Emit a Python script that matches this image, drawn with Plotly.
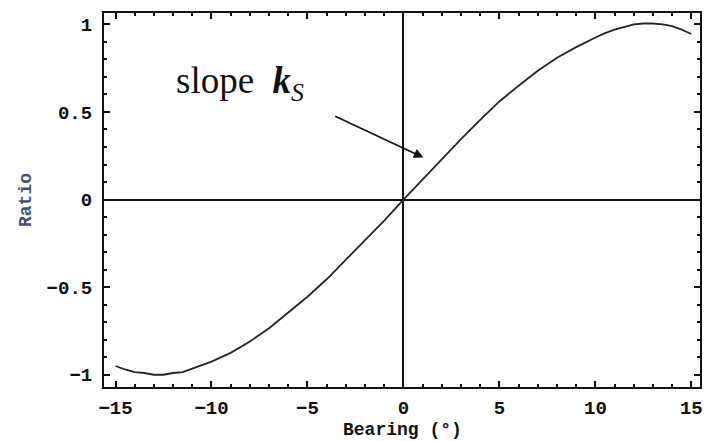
import plotly.graph_objects as go

# Bearing angle (degrees) and measured ratio
bearing = [-15, -14.5, -14, -13.5, -13, -12.5, -12, -11.5, -11, -10.5, -10,
           -9, -8, -7, -6, -5, -4, -3, -2, -1, 0,
           1, 2, 3, 4, 5, 6, 7, 8, 9, 10,
           10.5, 11, 11.5, 12, 12.5, 13, 13.5, 14, 14.5, 15]
ratio = [-0.95, -0.97, -0.985, -0.99, -1.0, -1.0, -0.99, -0.985, -0.965, -0.945, -0.925,
         -0.875, -0.81, -0.735, -0.645, -0.555, -0.455, -0.345, -0.235, -0.12, 0.0,
         0.115, 0.235, 0.345, 0.455, 0.56, 0.65, 0.735, 0.81, 0.87, 0.925,
         0.95, 0.97, 0.985, 1.0, 1.005, 1.005, 1.0, 0.99, 0.97, 0.945]

x_ticks = [-15, -10, -5, 0, 5, 10, 15]
y_ticks = [-1, -0.5, 0, 0.5, 1]
y_tick_text = ["\u22121", "\u22120.5", "0", "0.5", "1"]

mono = "Liberation Mono, DejaVu Sans Mono, monospace"
tick_font = dict(family=mono, size=19, color="#111", weight="bold")

fig = go.Figure()
fig.add_trace(go.Scatter(x=bearing, y=ratio, mode="lines",
                         line=dict(color="#262626", width=1.8), showlegend=False))

axis_common = dict(
    showline=True, linecolor="#111", linewidth=2, mirror="allticks",
    ticks="inside", ticklen=6, tickwidth=2, tickcolor="#111",
    showgrid=False, zeroline=True, zerolinecolor="#111", zerolinewidth=2,
    tickfont=tick_font,
)

fig.update_xaxes(range=[-15.6, 15.45], tickvals=x_ticks,
                 minor=dict(dtick=1, ticks="inside", ticklen=3, tickwidth=2, tickcolor="#111"),
                 ticklabelstandoff=2,
                 **axis_common)
fig.update_yaxes(range=[-1.07, 1.065], tickvals=y_ticks, ticktext=y_tick_text,
                 minor=dict(dtick=0.1, ticks="inside", ticklen=3, tickwidth=2, tickcolor="#111"),
                 ticklabelstandoff=6,
                 title=dict(text="Ratio",
                            font=dict(family=mono, size=18, color="#46507a", weight="bold"),
                            standoff=10),
                 **axis_common)

# x-axis title placed at the bottom edge of the figure
fig.add_annotation(x=0.5, y=-0.1444, xref="paper", yref="paper",
                   xanchor="center", yanchor="bottom", showarrow=False,
                   text="Bearing (\u00b0)", borderpad=0,
                   font=dict(family=mono, size=18, color="#111", weight="bold"))

# Slope label and pointer
fig.add_annotation(x=1.04, y=0.24, ax=-3.63, ay=0.48, axref="x", ayref="y",
                   xref="x", yref="y", text="", showarrow=True,
                   arrowhead=2, arrowsize=1.2, arrowwidth=1.6, arrowcolor="#111")
fig.add_annotation(x=-11.95, y=0.66, xref="x", yref="y", xanchor="left", yanchor="middle",
                   text="slope\u00a0\u00a0<b><i>k</i></b><sub><i>S</i></sub>", showarrow=False,
                   font=dict(family="Liberation Serif, Times New Roman, serif", size=37, color="#111"))

fig.update_layout(width=704, height=441, margin=dict(l=104, r=2, t=13, b=54),
                  paper_bgcolor="white", plot_bgcolor="white")

fig.write_html("out.html")
